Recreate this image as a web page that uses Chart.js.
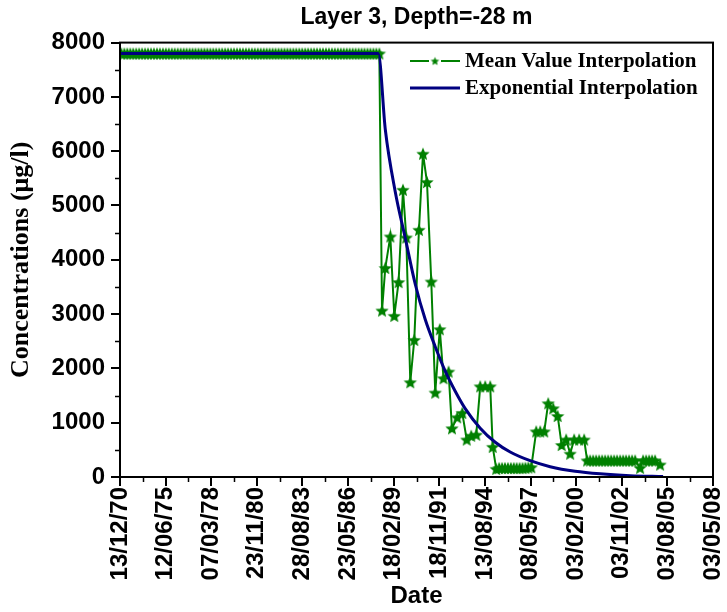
<!DOCTYPE html>
<html>
<head>
<meta charset="utf-8">
<title>Layer 3, Depth=-28 m</title>
<script src="https://cdn.jsdelivr.net/npm/chart.js@4/dist/chart.umd.min.js"></script>
<style>
    html, body { margin: 0; padding: 0; background: #fff; }
    canvas { display: block; }
</style>
</head>
<body>
<canvas id="layerChart" width="727" height="612"></canvas>
<script>
// Date axis: one major tick every 1000 days, labelled with these dates
const dateTicks = ['13/12/70', '12/06/75', '07/03/78', '23/11/80', '28/08/83', '23/05/86', '18/02/89',
    '18/11/91', '13/08/94', '08/05/97', '03/02/00', '03/11/02', '03/08/05', '03/05/08'];

// Mean value interpolation (day on axis, concentration in µg/l)
const meanDays = [
    30, 95, 160, 225, 290, 355, 420, 485, 550, 615, 680,
    745, 810, 875, 940, 1005, 1070, 1135, 1200, 1265, 1330, 1395,
    1460, 1525, 1590, 1655, 1720, 1785, 1850, 1915, 1980, 2045, 2110,
    2175, 2240, 2305, 2370, 2435, 2500, 2565, 2630, 2695, 2760, 2825,
    2890, 2955, 3020, 3085, 3150, 3215, 3280, 3345, 3410, 3475, 3540,
    3605, 3670, 3735, 3800, 3865, 3930, 3995, 4060, 4125, 4190, 4255,
    4320, 4385, 4450, 4515, 4580, 4645, 4710, 4775, 4840, 4905, 4970,
    5035, 5100, 5165, 5230, 5295, 5360, 5425, 5490, 5555, 5620, 5685,
    5744, 5816, 5926, 6013, 6107, 6204, 6276, 6364, 6451, 6554, 6642, 6730, 6824, 6911,
    7010, 7093, 7203, 7277, 7393, 7503, 7601, 7700, 7810, 7897, 8007, 8116, 8171,
    8248, 8312, 8376, 8440, 8504, 8568, 8632, 8696, 8760, 8824, 8888, 8952, 9016,
    9124, 9212, 9300,
    9387, 9497, 9595, 9682, 9781, 9869, 9956, 10066, 10175,
    10241, 10307, 10373, 10438, 10504, 10570, 10636, 10701, 10767, 10833, 10898,
    10964, 11030, 11095, 11161, 11227, 11293,
    11402,
    11468, 11534, 11600, 11665, 11731,
    11840
];
const meanConc = [
    7800, 7800, 7800, 7800, 7800, 7800, 7800, 7800, 7800, 7800, 7800,
    7800, 7800, 7800, 7800, 7800, 7800, 7800, 7800, 7800, 7800, 7800,
    7800, 7800, 7800, 7800, 7800, 7800, 7800, 7800, 7800, 7800, 7800,
    7800, 7800, 7800, 7800, 7800, 7800, 7800, 7800, 7800, 7800, 7800,
    7800, 7800, 7800, 7800, 7800, 7800, 7800, 7800, 7800, 7800, 7800,
    7800, 7800, 7800, 7800, 7800, 7800, 7800, 7800, 7800, 7800, 7800,
    7800, 7800, 7800, 7800, 7800, 7800, 7800, 7800, 7800, 7800, 7800,
    7800, 7800, 7800, 7800, 7800, 7800, 7800, 7800, 7800, 7800, 7800,
    3066, 3850, 4430, 2968, 3589, 5290, 4411, 1745, 2525, 4553, 5954, 5432, 3600, 1554,
    2722, 1819, 1941, 897, 1100, 1180, 690, 760, 780, 1670, 1670, 1670, 555,
    150, 165, 165, 165, 165, 165, 165, 165, 165, 165, 170, 175, 180,
    840, 840, 840,
    1358, 1266, 1124, 590, 690, 430, 690, 690, 690,
    305, 305, 305, 305, 305, 305, 305, 305, 305, 305, 305,
    305, 305, 305, 305, 305, 305,
    170,
    305, 305, 305, 305, 305,
    230
];

// Exponential interpolation
const expDays = [0, 5663, 5816, 6035, 6254, 6473, 6692, 6911, 7130, 7349, 7568,
    7897, 8226, 8554, 8992, 9430, 9978, 10526, 11183, 11906];
const expConc = [7800, 7800, 6400, 5250, 4400, 3550, 2900, 2400, 1950, 1580, 1260,
    900, 640, 460, 300, 190, 105, 58, 25, 8];

const GREEN = '#008000';
const NAVY = '#000080';
const SANS = '"Liberation Sans", Arial, sans-serif';
const SERIF = '"Liberation Serif", "Times New Roman", serif';

// Filled five-pointed star used as the point marker
function makeStar(outer, color) {
    const inner = outer * 0.45;
    const size = Math.ceil(outer * 2) + 2;
    const c = document.createElement('canvas');
    c.width = size;
    c.height = size;
    const g = c.getContext('2d');
    g.translate(size / 2, size / 2 + outer * 0.1);
    g.beginPath();
    for (let i = 0; i < 10; i++) {
        const r = i % 2 ? inner : outer;
        const a = -Math.PI / 2 + i * Math.PI / 5;
        g.lineTo(r * Math.cos(a), r * Math.sin(a));
    }
    g.closePath();
    g.fillStyle = color;
    g.fill();
    return c;
}

const starMarker = makeStar(7, GREEN);
const legendStar = makeStar(4.5, GREEN);

// Box frame, minor ticks and the in-plot legend
const framePlugin = {
    id: 'frame',
    afterDraw(chart) {
        const { ctx, chartArea: a, scales: { x, y } } = chart;
        ctx.save();
        ctx.strokeStyle = '#000';
        ctx.lineWidth = 2;
        ctx.strokeRect(a.left, a.top, a.right - a.left, a.bottom - a.top);

        ctx.lineWidth = 1.5;
        ctx.beginPath();
        for (let v = 500; v < 8000; v += 1000) {
            const py = Math.round(y.getPixelForValue(v)) + 0.5;
            ctx.moveTo(a.left - 5, py);
            ctx.lineTo(a.left, py);
        }
        for (let d = 500; d < 13000; d += 1000) {
            const px = Math.round(x.getPixelForValue(d)) + 0.5;
            ctx.moveTo(px, a.bottom);
            ctx.lineTo(px, a.bottom + 5);
        }
        ctx.stroke();

        // legend
        const sets = chart.data.datasets;
        const lx = 410, lw = 50, rows = [61, 88];
        ctx.font = 'bold 21px ' + SERIF;
        ctx.textBaseline = 'middle';
        sets.forEach((ds, i) => {
            const ly = rows[i];
            ctx.strokeStyle = ds.borderColor;
            ctx.lineWidth = ds.borderWidth;
            ctx.beginPath();
            ctx.moveTo(lx, ly);
            ctx.lineTo(lx + lw, ly);
            ctx.stroke();
            if (ds.pointRadius > 0) {
                ctx.fillStyle = '#fff';
                ctx.fillRect(lx + lw / 2 - 6, ly - 3, 12, 6);
                ctx.drawImage(legendStar, lx + lw / 2 - legendStar.width / 2, ly - legendStar.height / 2);
            }
            ctx.fillStyle = '#000';
            ctx.fillText(ds.label, lx + lw + 5, ly + 1);
        });
        ctx.restore();
    }
};

const tickFont = { family: SANS, size: 24, weight: 'bold' };

new Chart(document.getElementById('layerChart'), {
    type: 'line',
    data: {
        datasets: [
            {
                label: 'Mean Value Interpolation',
                data: meanDays.map((d, i) => ({ x: d, y: meanConc[i] })),
                borderColor: GREEN,
                backgroundColor: GREEN,
                borderWidth: 2,
                pointStyle: starMarker,
                pointRadius: 6,
                tension: 0,
                order: 2
            },
            {
                label: 'Exponential Interpolation',
                data: expDays.map((d, i) => ({ x: d, y: expConc[i] })),
                borderColor: NAVY,
                backgroundColor: NAVY,
                borderWidth: 3,
                pointRadius: 0,
                cubicInterpolationMode: 'monotone',
                order: 1
            }
        ]
    },
    options: {
        responsive: false,
        animation: false,
        layout: { padding: { left: 6, right: 0, top: 0, bottom: 1 } },
        plugins: {
            legend: { display: false },
            tooltip: { enabled: false },
            title: {
                display: true,
                fullSize: false,
                text: 'Layer 3, Depth=-28 m',
                color: '#000',
                font: { family: SANS, size: 23, weight: 'bold' },
                padding: { top: 4, bottom: 11 }
            }
        },
        scales: {
            x: {
                type: 'linear',
                min: 0,
                max: 13000,
                afterFit: (scale) => {
                    scale.height = 134;
                    scale.paddingLeft = 0;
                    scale.paddingRight = 14;
                },
                afterBuildTicks: (scale) => {
                    scale.ticks = dateTicks.map((t, i) => ({ value: i * 1000 }));
                },
                grid: { drawOnChartArea: false, tickLength: 9, color: '#000', lineWidth: 2 },
                border: { color: '#000', width: 2 },
                ticks: {
                    autoSkip: false,
                    maxRotation: 90,
                    minRotation: 90,
                    padding: 1,
                    color: '#000',
                    font: tickFont,
                    callback: (v) => dateTicks[Math.round(v / 1000)]
                },
                title: {
                    display: true,
                    text: 'Date',
                    color: '#000',
                    font: { family: SANS, size: 24, weight: 'bold' },
                    padding: { top: 0, bottom: 0 }
                }
            },
            y: {
                min: 0,
                max: 8000,
                afterFit: (scale) => { scale.width = 114; },
                grid: { drawOnChartArea: false, tickLength: 9, color: '#000', lineWidth: 2 },
                border: { color: '#000', width: 2 },
                ticks: {
                    stepSize: 1000,
                    padding: 6,
                    color: '#000',
                    font: tickFont,
                    callback: (v) => String(v)
                },
                title: {
                    display: true,
                    text: 'Concentrations (μg/l)',
                    color: '#000',
                    font: { family: SERIF, size: 26, weight: 'bold' },
                    padding: { top: 0, bottom: 0 }
                }
            }
        }
    },
    plugins: [framePlugin]
});
</script>
</body>
</html>
